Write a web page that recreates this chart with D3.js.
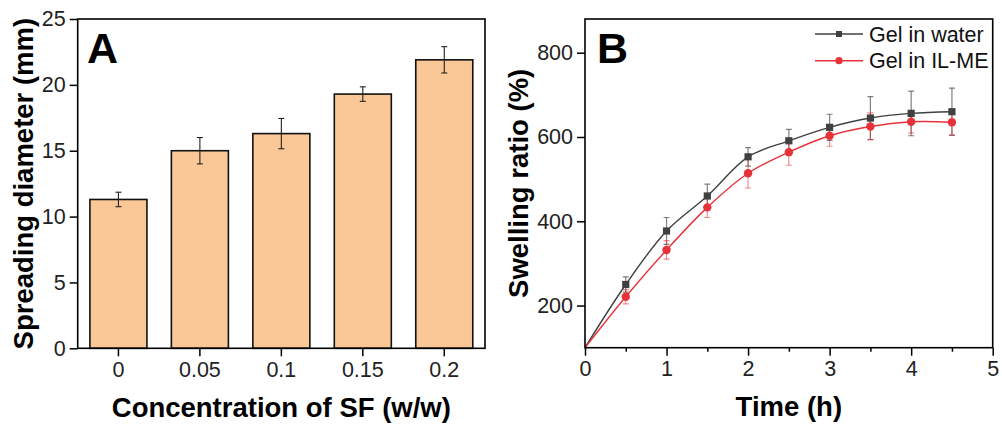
<!DOCTYPE html>
<html><head><meta charset="utf-8">
<script src="https://cdn.jsdelivr.net/npm/d3@7"></script>
<style>body{margin:0;background:#fff}svg{display:block}text{font-family:"Liberation Sans",Arial,sans-serif}</style>
</head><body><svg id="c" width="1002" height="426"></svg>
<script>
// ---- Panel A data ----
const concCategories = ["0","0.05","0.1","0.15","0.2"];
const spreadingMean = [11.3,15.0,16.3,19.3,21.9];
const spreadingErr = [0.55,1.0,1.15,0.55,1.0];
const spreadingTicks = [0,5,10,15,20,25];

// ---- Panel B data ----
const timeHours = [0,0.5,1,1.5,2,2.5,3,3.5,4,4.5];
const gelWater = [100,250,377,460,553,591,623,645,656,660];
const gelWaterErr = [0,18,32,28,22,27,31,51,53,56];
const gelILME = [100,221,332,433,514,564,603,625,636,635];
const gelILMEErr = [0,17,22,24,35,31,25,32,27,30];
const timeTicks = [0,1,2,3,4,5];
const timeMinorTicks = [0.5,1.5,2.5,3.5,4.5];
const swellingTicks = [200,400,600,800];
const seriesNames = ["Gel in water","Gel in IL-ME"];

const svg = d3.select("#c");
const TICKF = 21.5, TITLEF = 27.5;

// ================= Panel A =================
const A = {l:77.7, r:485, t:19, b:348.3};
const xA = d3.scaleBand().domain(concCategories).range([A.l, A.r]).paddingInner(0.3).paddingOuter(0.15);
const yA = d3.scaleLinear().domain([0,25]).range([A.b, A.t]);
const gA = svg.append("g");

gA.selectAll("rect.bar").data(concCategories).join("rect")
  .attr("x", d => xA(d)).attr("width", xA.bandwidth())
  .attr("y", (d,i) => yA(spreadingMean[i])).attr("height", (d,i) => yA(0) - yA(spreadingMean[i]))
  .attr("fill", "#f9c896").attr("stroke", "#111").attr("stroke-width", 1.6);

const errA = gA.append("g").attr("stroke", "#222").attr("stroke-width", 1.1);
concCategories.forEach((c,i) => {
  const cx = xA(c) + xA.bandwidth()/2;
  const y1 = yA(spreadingMean[i] + spreadingErr[i]), y2 = yA(spreadingMean[i] - spreadingErr[i]);
  errA.append("line").attr("x1", cx).attr("x2", cx).attr("y1", y1).attr("y2", y2);
  errA.append("line").attr("x1", cx-3).attr("x2", cx+3).attr("y1", y1).attr("y2", y1);
  errA.append("line").attr("x1", cx-3).attr("x2", cx+3).attr("y1", y2).attr("y2", y2);
});

const axAy = gA.append("g").attr("transform", `translate(${A.l},0)`)
  .call(d3.axisLeft(yA).tickValues(spreadingTicks).tickSize(8).tickPadding(4));
const axAx = gA.append("g").attr("transform", `translate(0,${A.b})`)
  .call(d3.axisBottom(xA).tickSize(8).tickPadding(5));
[axAy, axAx].forEach(ax => {
  ax.select(".domain").remove();
  ax.selectAll(".tick line").attr("stroke", "#000").attr("stroke-width", 1.5);
  ax.selectAll(".tick text").attr("font-size", TICKF).attr("fill", "#222").style("font-family", '"Liberation Sans",Arial,sans-serif');
});
gA.append("rect").attr("x", A.l).attr("y", A.t).attr("width", A.r-A.l).attr("height", A.b-A.t)
  .attr("fill", "none").attr("stroke", "#000").attr("stroke-width", 1.6);

gA.append("text").attr("x", 87).attr("y", 63).attr("font-size", 43).attr("font-weight", "bold").text("A");
gA.append("text").attr("x", (A.l+A.r)/2).attr("y", 416.5).attr("text-anchor", "middle")
  .attr("font-size", TITLEF).attr("font-weight", "bold").text("Concentration of SF (w/w)");
gA.append("text").attr("transform", `translate(33,${(A.t+A.b)/2}) rotate(-90)`).attr("text-anchor", "middle")
  .attr("font-size", TITLEF).attr("font-weight", "bold").text("Spreading diameter (mm)");

// ================= Panel B =================
const B = {l:585, r:992.7, t:19, b:347.7};
const xB = d3.scaleLinear().domain([0,5]).range([B.l, B.r]);
const yB = d3.scaleLinear().domain([100,880]).range([B.b, B.t]);
const gB = svg.append("g");

svg.append("defs").append("clipPath").attr("id", "clipB")
  .append("rect").attr("x", B.l).attr("y", B.t).attr("width", B.r-B.l).attr("height", B.b-B.t);

const series = [
  {name: seriesNames[0], vals: gelWater, err: gelWaterErr, color: "#404040", errColor: "#555", errOp: 0.75, shape: "square"},
  {name: seriesNames[1], vals: gelILME, err: gelILMEErr, color: "#e8323a", errColor: "#e8323a", errOp: 0.55, shape: "circle"}
];
const plotB = gB.append("g").attr("clip-path", "url(#clipB)");

series.forEach(s => {
  const ge = plotB.append("g").attr("stroke", s.errColor).attr("stroke-opacity", s.errOp).attr("stroke-width", 1.2);
  timeHours.forEach((t,i) => {
    if (s.err[i] <= 0) return;
    const cx = xB(t), y1 = yB(s.vals[i] + s.err[i]), y2 = yB(s.vals[i] - s.err[i]);
    ge.append("line").attr("x1", cx).attr("x2", cx).attr("y1", y1).attr("y2", y2);
    ge.append("line").attr("x1", cx-3).attr("x2", cx+3).attr("y1", y1).attr("y2", y1);
    ge.append("line").attr("x1", cx-3).attr("x2", cx+3).attr("y1", y2).attr("y2", y2);
  });
});
const lineGen = d3.line().x(d => xB(d[0])).y(d => yB(d[1])).curve(d3.curveCatmullRom.alpha(0.5));
series.forEach(s => {
  const pts = timeHours.map((t,i) => [t, s.vals[i]]);
  plotB.append("path").datum(pts).attr("d", lineGen).attr("fill", "none")
    .attr("stroke", s.color).attr("stroke-width", 1.4);
  const mk = plotB.append("g").attr("fill", s.color);
  pts.filter(p => p[0] > 0).forEach(p => {
    if (s.shape === "square") mk.append("rect").attr("x", xB(p[0])-3.6).attr("y", yB(p[1])-3.6).attr("width", 7.2).attr("height", 7.2);
    else mk.append("circle").attr("cx", xB(p[0])).attr("cy", yB(p[1])).attr("r", 4.2);
  });
});

const axBy = gB.append("g").attr("transform", `translate(${B.l},0)`)
  .call(d3.axisLeft(yB).tickValues(swellingTicks).tickSize(8).tickPadding(4));
const axBx = gB.append("g").attr("transform", `translate(0,${B.b})`)
  .call(d3.axisBottom(xB).tickValues(timeTicks).tickFormat(d3.format("d")).tickSize(8).tickPadding(5));
const axBxm = gB.append("g").attr("transform", `translate(0,${B.b})`)
  .call(d3.axisBottom(xB).tickValues(timeMinorTicks).tickFormat("").tickSize(4));
[axBy, axBx, axBxm].forEach(ax => {
  ax.select(".domain").remove();
  ax.selectAll(".tick line").attr("stroke", "#000").attr("stroke-width", 1.5);
  ax.selectAll(".tick text").attr("font-size", TICKF).attr("fill", "#222").style("font-family", '"Liberation Sans",Arial,sans-serif');
});
gB.append("rect").attr("x", B.l).attr("y", B.t).attr("width", B.r-B.l).attr("height", B.b-B.t)
  .attr("fill", "none").attr("stroke", "#000").attr("stroke-width", 1.6);

const legY = [34, 60.7];
series.forEach((s,i) => {
  const lg = gB.append("g");
  lg.append("line").attr("x1", 815).attr("x2", 863).attr("y1", legY[i]).attr("y2", legY[i])
    .attr("stroke", s.color).attr("stroke-width", 1.4);
  if (s.shape === "square") lg.append("rect").attr("x", 839-3).attr("y", legY[i]-3).attr("width", 6).attr("height", 6).attr("fill", s.color);
  else lg.append("circle").attr("cx", 839).attr("cy", legY[i]).attr("r", 3.6).attr("fill", s.color);
  lg.append("text").attr("x", 869).attr("y", legY[i] + 7.5).attr("font-size", 21.5).attr("fill", "#111").text(s.name);
});

gB.append("text").attr("x", 597).attr("y", 63).attr("font-size", 43).attr("font-weight", "bold").text("B");
gB.append("text").attr("x", (B.l+B.r)/2).attr("y", 416).attr("text-anchor", "middle")
  .attr("font-size", TITLEF).attr("font-weight", "bold").text("Time (h)");
gB.append("text").attr("transform", `translate(528,${(B.t+B.b)/2}) rotate(-90)`).attr("text-anchor", "middle")
  .attr("font-size", TITLEF).attr("font-weight", "bold").text("Swelling ratio (%)");
</script></body></html>
